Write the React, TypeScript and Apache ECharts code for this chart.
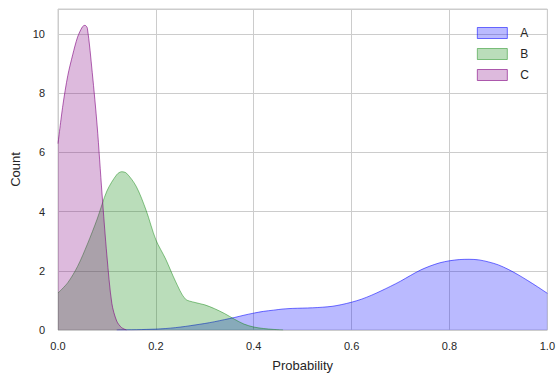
import React, { useEffect, useRef } from "react";
import * as echarts from "echarts";

const seriesNames = ["A", "B", "C"];

const xA = [0.12, 0.14, 0.16, 0.18, 0.2, 0.22, 0.24, 0.26, 0.28, 0.3, 0.32, 0.34, 0.36, 0.38, 0.4, 0.42, 0.44, 0.46, 0.48, 0.5, 0.52, 0.54, 0.56, 0.58, 0.6, 0.62, 0.64, 0.66, 0.68, 0.7, 0.72, 0.74, 0.76, 0.78, 0.8, 0.82, 0.84, 0.86, 0.88, 0.9, 0.92, 0.94, 0.96, 0.98, 1.0];
const yA = [0, 0.005, 0.01, 0.02, 0.03, 0.05, 0.08, 0.12, 0.17, 0.22, 0.28, 0.35, 0.42, 0.5, 0.57, 0.63, 0.67, 0.71, 0.73, 0.74, 0.75, 0.77, 0.8, 0.86, 0.94, 1.04, 1.17, 1.32, 1.48, 1.65, 1.84, 2.02, 2.16, 2.27, 2.34, 2.38, 2.39, 2.37, 2.3, 2.2, 2.05, 1.87, 1.67, 1.46, 1.24];

const xB = [0, 0.02, 0.04, 0.06, 0.08, 0.1, 0.12, 0.13, 0.14, 0.16, 0.18, 0.2, 0.22, 0.24, 0.26, 0.28, 0.3, 0.32, 0.34, 0.36, 0.38, 0.4, 0.42, 0.44, 0.46];
const yB = [1.25, 1.6, 2.15, 2.9, 3.75, 4.7, 5.25, 5.35, 5.3, 4.85, 4.05, 3.05, 2.4, 1.65, 1.05, 0.93, 0.85, 0.72, 0.56, 0.37, 0.2, 0.1, 0.05, 0.02, 0];

const xC = [0, 0.01, 0.02, 0.03, 0.04, 0.05, 0.055, 0.06, 0.07, 0.08, 0.09, 0.1, 0.11, 0.12, 0.13, 0.14];
const yC = [6.3, 7.6, 8.6, 9.3, 9.9, 10.25, 10.3, 10.2, 8.7, 6.9, 4.6, 2.5, 0.9, 0.3, 0.08, 0];

const xTicks = [0, 0.2, 0.4, 0.6, 0.8, 1.0];
const yTicks = [0, 2, 4, 6, 8, 10];

const fills = ["rgba(0,0,255,0.27)", "rgba(0,128,0,0.27)", "rgba(128,0,128,0.27)"];
const strokes = ["rgba(0,0,255,0.55)", "rgba(0,128,0,0.45)", "rgba(128,0,128,0.6)"];

const FONT = "'Liberation Sans', Arial, sans-serif";

export default function App() {
  const ref = useRef<HTMLDivElement>(null);
  useEffect(() => {
    if (!ref.current) return;
    const chart = echarts.init(ref.current, undefined, { renderer: "svg" });
    const xs = [xA, xB, xC];
    const ys = [yA, yB, yC];
    chart.setOption({
      animation: false,
      textStyle: { fontFamily: FONT },
      grid: {
        left: 58,
        right: 9,
        top: 9,
        bottom: 48,
        show: true,
        borderColor: "#cccccc",
        borderWidth: 1,
      },
      legend: {
        orient: "vertical",
        right: 24,
        top: 22,
        itemWidth: 30,
        itemHeight: 11,
        itemGap: 9,
        icon: "rect",
        textStyle: { fontSize: 12, color: "#262626", fontFamily: FONT, padding: [2, 0, 0, 8] },
        data: seriesNames.map((n, i) => ({
          name: n,
          itemStyle: { color: fills[i], borderColor: strokes[i], borderWidth: 1 },
        })),
      },
      xAxis: {
        type: "value",
        min: 0,
        max: 1,
        interval: 0.2,
        name: "Probability",
        nameLocation: "middle",
        nameGap: 29,
        nameTextStyle: { fontSize: 13, color: "#262626", fontFamily: FONT },
        axisLine: { show: false },
        axisTick: { show: false },
        axisLabel: {
          fontSize: 11,
          color: "#262626",
          margin: 10,
          formatter: (v: number) => (xTicks.includes(Math.round(v * 10) / 10) ? v.toFixed(1) : ""),
        },
        splitLine: { show: true, lineStyle: { color: "#cccccc", width: 1 } },
      },
      yAxis: {
        type: "value",
        min: 0,
        max: 10.85,
        interval: 2,
        name: "Count",
        nameLocation: "middle",
        nameGap: 36,
        nameTextStyle: { fontSize: 13, color: "#262626", fontFamily: FONT },
        axisLine: { show: false },
        axisTick: { show: false },
        axisLabel: {
          fontSize: 11,
          color: "#262626",
          margin: 13,
          showMaxLabel: false,
          formatter: (v: number) => (yTicks.includes(v) ? String(v) : ""),
        },
        splitLine: { show: true, lineStyle: { color: "#cccccc", width: 1 } },
      },
      series: seriesNames.map((n, i) => ({
        name: n,
        type: "line",
        showSymbol: false,
        smooth: 0.3,
        data: xs[i].map((x, j) => [x, ys[i][j]]),
        lineStyle: { color: strokes[i], width: 1 },
        itemStyle: { color: fills[i] },
        areaStyle: { color: fills[i], opacity: 1 },
        z: 2 + i,
      })),
    });
    return () => chart.dispose();
  }, []);
  return <div ref={ref} style={{ width: 558, height: 378, position: "absolute", left: 0, top: 0 }} />;
}
